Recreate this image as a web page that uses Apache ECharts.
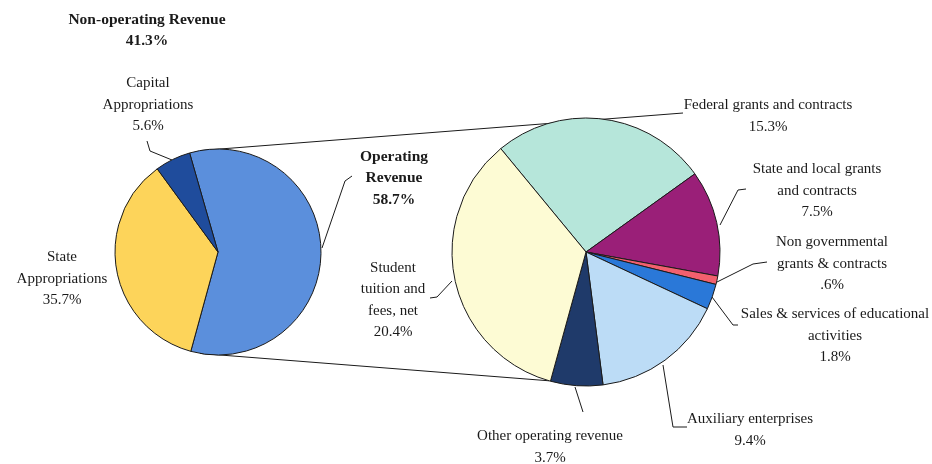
<!DOCTYPE html>
<html>
<head>
<meta charset="utf-8">
<script src="https://cdn.jsdelivr.net/npm/echarts@6/dist/echarts.min.js"></script>
<style>html,body{margin:0;padding:0;background:#fff;}#c{width:932px;height:464px;}</style>
</head>
<body>
<div id="c"></div>
<script>
// ---- data ----
const leftNames = ['Operating\nRevenue', 'State\nAppropriations', 'Capital\nAppropriations'];
const leftValues = [58.7, 35.7, 5.6];
const leftColors = ['#5b8fdc', '#fdd45a', '#1f4c9c'];

const rightNames = ['Federal grants and contracts', 'State and local grants\nand contracts', 'Non governmental\ngrants & contracts', 'Sales & services of educational\nactivities', 'Auxiliary enterprises', 'Other operating revenue', 'Student\ntuition and\nfees, net'];
const rightValues = [15.3, 7.5, 0.6, 1.8, 9.4, 3.7, 20.4];
const rightColors = ['#b6e6da', '#9a1f78', '#f2606e', '#2a78d8', '#bcdcf6', '#1f3a6a', '#fdfbd4'];

const groupName = 'Non-operating Revenue';
const groupValue = 41.3;

// ---- layout ----
const FONT = "'Liberation Serif', 'DejaVu Serif', serif";
const FS = 15, FSB = 15.5, LH = 21.5;
const LC = [218, 252], LR = 103, LSTART = 106;
const RC = [586, 252], RR = 134, RSTART = 129.5;
const leftLabelPos = [[394, 178], [62, 279], [148, 105]];
const leftLines = [[[322, 248], [345, 181], [352, 176]], null, [[172, 160], [150, 151], [147, 141]]];
const rightLabelPos = [[768, 116], [817, 191], [832, 264], [835, 336], [750, 430], [550, 447], [393, 300]];
const rightLines = [null, [[720, 225], [738, 190], [746, 189]], [[717, 282], [753, 264], [767, 262]], [[712, 297], [733, 325], [738, 325]], [[663, 365], [673, 427], [687, 427]], [[575, 387], [583, 412]], [[452, 281], [437, 297], [430, 298]]];

function pct(v) { return (v < 1 ? String(v).replace(/^0/, '') : String(v)) + '%'; }
function pt(c, r, degFromTop) {
  const a = degFromTop * Math.PI / 180;
  return [c[0] + r * Math.sin(a), c[1] - r * Math.cos(a)];
}

const chart = echarts.init(document.getElementById('c'));
const labelBase = {
  show: true, position: 'outside', color: '#1a1a1a', fontFamily: FONT, fontSize: FS, lineHeight: LH, align: 'center',
  formatter: p => p.name + '\n' + pct(p.value)
};

function mkData(names, values, colors, boldIdx, lines) {
  return names.map((n, i) => ({
    name: n, value: values[i],
    itemStyle: { color: colors[i] },
    label: i === boldIdx ? { fontWeight: 'bold', fontSize: FSB } : {},
    labelLine: { show: !!lines[i] }
  }));
}

function mkLayout(pos, lines) {
  return function (p) {
    const r = { x: pos[p.dataIndex][0], y: pos[p.dataIndex][1], align: 'center', verticalAlign: 'middle' };
    if (lines[p.dataIndex]) r.labelLinePoints = lines[p.dataIndex];
    return r;
  };
}

const topA = pt(LC, LR, -10), botA = pt(LC, LR, 190), botB = pt(RC, RR, 196);

chart.setOption({
  animation: false,
  series: [
    {
      type: 'pie', center: LC, radius: LR, startAngle: LSTART, clockwise: true,
      avoidLabelOverlap: false,
      itemStyle: { borderColor: '#1a1a1a', borderWidth: 1 },
      label: labelBase,
      labelLine: { lineStyle: { color: '#1a1a1a', width: 1 } },
      labelLayout: mkLayout(leftLabelPos, leftLines),
      emphasis: { disabled: true },
      data: mkData(leftNames, leftValues, leftColors, 0, leftLines)
    },
    {
      type: 'pie', center: RC, radius: RR, startAngle: RSTART, clockwise: true,
      avoidLabelOverlap: false,
      itemStyle: { borderColor: '#1a1a1a', borderWidth: 1 },
      label: labelBase,
      labelLine: { lineStyle: { color: '#1a1a1a', width: 1 } },
      labelLayout: mkLayout(rightLabelPos, rightLines),
      emphasis: { disabled: true },
      data: mkData(rightNames, rightValues, rightColors, -1, rightLines)
    }
  ],
  graphic: [
    { type: 'text', x: 147, y: 9, style: { text: groupName + '\n' + pct(groupValue), fontFamily: FONT, fontSize: FSB, fontWeight: 'bold', lineHeight: LH, align: 'center', fill: '#1a1a1a' } },
    { type: 'line', shape: { x1: topA[0], y1: topA[1], x2: 683, y2: 113 }, style: { stroke: '#1a1a1a', lineWidth: 1 } },
    { type: 'line', shape: { x1: botA[0], y1: botA[1], x2: botB[0], y2: botB[1] }, style: { stroke: '#1a1a1a', lineWidth: 1 } }
  ]
});
</script>
</body>
</html>
